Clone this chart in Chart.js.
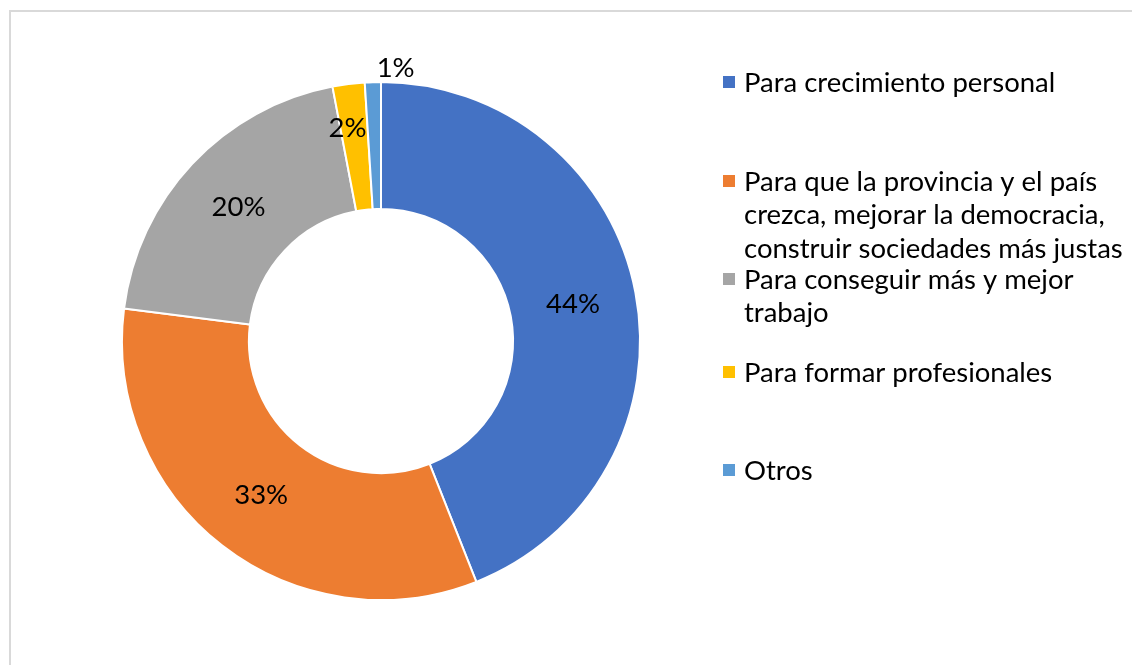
<!DOCTYPE html>
<html>
<head>
<meta charset="utf-8">
<script src="https://cdn.jsdelivr.net/npm/chart.js@4"></script>
<style>
  html, body { margin: 0; padding: 0; background: #fff; }
  #wrap { width: 1132px; height: 665px; position: relative; }
</style>
</head>
<body>
<div id="wrap"><canvas id="donut-chart"></canvas></div>
<script>
const CATEGORIES = [
  "Para crecimiento personal",
  "Para que la provincia y el país crezca, mejorar la democracia, construir sociedades más justas",
  "Para conseguir más y mejor trabajo",
  "Para formar profesionales",
  "Otros",
];
// legend lines as wrapped in the original layout
const LEGEND_LINES = [
  ["Para crecimiento personal"],
  ["Para que la provincia y el país", "crezca, mejorar la democracia,", "construir sociedades más justas"],
  ["Para conseguir más y mejor", "trabajo"],
  ["Para formar profesionales"],
  ["Otros"],
];
const PERCENTS = [44, 33, 20, 2, 1];
const COLORS = ["#4472C4", "#ED7D31", "#A5A5A5", "#FFC000", "#5B9BD5"];

const FONT = "Lato, 'Noto Sans', sans-serif";
const FONT_SIZE = 27.5;

// light frame around the whole chart
const framePlugin = {
  id: "frame",
  beforeDraw(chart) {
    const ctx = chart.ctx;
    ctx.save();
    ctx.strokeStyle = "#d9d9d9";
    ctx.lineWidth = 2;
    ctx.strokeRect(10, 11, 1200, 700);
    ctx.restore();
  },
};

// percentage labels on each slice; tiny slices get pushed outwards
const sliceLabels = {
  id: "sliceLabels",
  afterDatasetsDraw(chart, args, opts) {
    const ctx = chart.ctx;
    const meta = chart.getDatasetMeta(0);
    ctx.save();
    ctx.font = `${FONT_SIZE}px ${FONT}`;
    ctx.fillStyle = "#000";
    ctx.textAlign = "center";
    ctx.textBaseline = "middle";
    meta.data.forEach((arc, i) => {
      const p = arc.getProps(["x", "y", "startAngle", "endAngle", "innerRadius", "outerRadius"], true);
      const shift = opts.shift[i] || { r: 0, a: 0 };
      const mid = (p.startAngle + p.endAngle) / 2 + shift.a;
      const r = (p.innerRadius + p.outerRadius) / 2 + shift.r;
      ctx.fillText(PERCENTS[i] + "%", p.x + Math.cos(mid) * r, p.y + Math.sin(mid) * r);
    });
    ctx.restore();
  },
};

// legend drawn to the right of the ring, with fixed line wrapping
const sideLegend = {
  id: "sideLegend",
  afterDraw(chart, args, opts) {
    const ctx = chart.ctx;
    ctx.save();
    ctx.font = `${FONT_SIZE}px ${FONT}`;
    ctx.textAlign = "left";
    ctx.textBaseline = "middle";
    LEGEND_LINES.forEach((lines, i) => {
      const y0 = opts.rows[i];
      ctx.fillStyle = COLORS[i];
      ctx.fillRect(opts.x, y0 - 6, 12, 12);
      ctx.fillStyle = "#000";
      lines.forEach((line, j) => {
        ctx.fillText(line, opts.x + 21, y0 + 1 + j * opts.lineHeight);
      });
    });
    ctx.restore();
  },
};

new Chart(document.getElementById("donut-chart"), {
  type: "doughnut",
  data: {
    labels: CATEGORIES,
    datasets: [
      {
        data: PERCENTS,
        backgroundColor: COLORS,
        borderColor: "#fff",
        borderWidth: 2,
      },
    ],
  },
  options: {
    responsive: true,
    maintainAspectRatio: false,
    animation: false,
    cutout: "51%",
    layout: {
      padding: { left: 121, right: 491, top: 81, bottom: 64 },
    },
    plugins: {
      legend: { display: false },
      tooltip: { enabled: false },
      sliceLabels: {
        shift: [null, null, null, { r: 20, a: -0.03 }, { r: 78, a: 0.085 }],
      },
      sideLegend: {
        x: 723,
        rows: [82, 181, 279, 372, 470],
        lineHeight: 33.5,
      },
    },
  },
  plugins: [framePlugin, sliceLabels, sideLegend],
});
</script>
</body>
</html>
